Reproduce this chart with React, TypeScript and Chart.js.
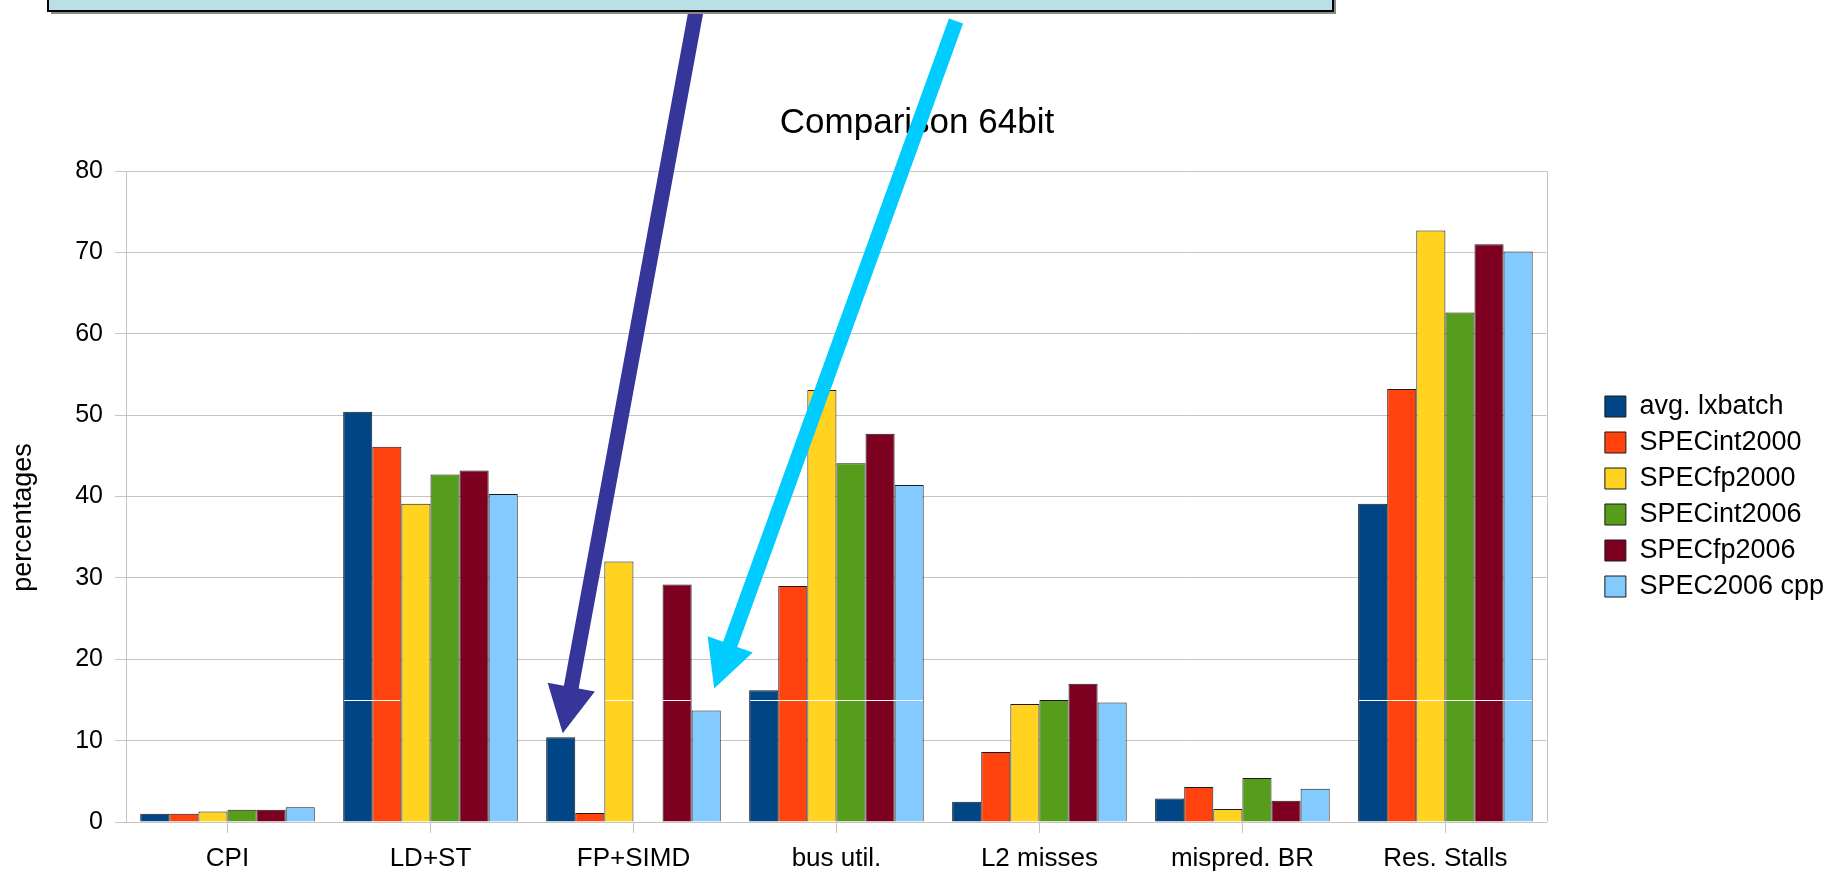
import React, { useEffect, useRef } from 'react';
import { Chart, registerables } from 'chart.js';

Chart.register(...registerables);

const categories = ['CPI', 'LD+ST', 'FP+SIMD', 'bus util.', 'L2 misses', 'mispred. BR', 'Res. Stalls'];

const avgLxbatch = [1.0, 50.4, 10.4, 16.2, 2.5, 2.9, 39.1];
const specInt2000 = [1.0, 46.1, 1.1, 29.0, 8.6, 4.3, 53.2];
const specFp2000 = [1.3, 39.1, 32.0, 53.1, 14.5, 1.6, 72.7];
const specInt2006 = [1.5, 42.7, 0.1, 44.1, 15.0, 5.4, 62.6];
const specFp2006 = [1.5, 43.2, 29.2, 47.7, 17.0, 2.6, 71.0];
const spec2006Cpp = [1.8, 40.3, 13.7, 41.4, 14.7, 4.1, 70.1];

const seriesNames = ['avg. lxbatch', 'SPECint2000', 'SPECfp2000', 'SPECint2006', 'SPECfp2006', 'SPEC2006 cpp'];
const seriesValues = [avgLxbatch, specInt2000, specFp2000, specInt2006, specFp2006, spec2006Cpp];
const seriesColors = ['#004586', '#ff420e', '#ffd320', '#579d1c', '#7e0021', '#83caff'];

const yMin = 0;
const yMax = 80;
const yStep = 10;

const chartTitle = 'Comparison 64bit';
const yAxisTitle = 'percentages';

// white stripe at value 15 crossing some bars: [category index, first series, last series]
const stripeValue = 15;
const stripeSegments = [
  [1, 0, 1],
  [2, 2, 4],
  [3, 0, 5],
  [6, 0, 5],
];

// callout arrows pointing at bars
const arrowTargets = [
  { series: 0, index: 2, color: '#35359a', start: [698, 0], tipShift: [2, -4] },
  { series: 5, index: 2, color: '#00ccff', start: [956, 21], tipShift: [8, -22] },
];

const FONT = "'Liberation Sans', Arial, sans-serif";
const GRID = '#c4c4c4';

function drawArrow(ctx: CanvasRenderingContext2D, sx: number, sy: number, tx: number, ty: number, color: string) {
  const dx = tx - sx;
  const dy = ty - sy;
  const len = Math.hypot(dx, dy);
  const ux = dx / len;
  const uy = dy / len;
  const nx = -uy;
  const ny = ux;
  const shaft = 15;
  const headLen = 47;
  const headW = 48;
  const bx = tx - ux * headLen;
  const by = ty - uy * headLen;
  ctx.save();
  ctx.fillStyle = color;
  ctx.beginPath();
  ctx.moveTo(sx + nx * shaft / 2, sy + ny * shaft / 2);
  ctx.lineTo(bx + nx * shaft / 2, by + ny * shaft / 2);
  ctx.lineTo(bx + nx * headW / 2, by + ny * headW / 2);
  ctx.lineTo(tx, ty);
  ctx.lineTo(bx - nx * headW / 2, by - ny * headW / 2);
  ctx.lineTo(bx - nx * shaft / 2, by - ny * shaft / 2);
  ctx.lineTo(sx - nx * shaft / 2, sy - ny * shaft / 2);
  ctx.closePath();
  ctx.fill();
  ctx.restore();
}

const stripePlugin = {
  id: 'stripe',
  afterDatasetsDraw(chart: any) {
    const ctx = chart.ctx;
    const y = Math.round(chart.scales.y.getPixelForValue(stripeValue)) + 0.5;
    ctx.save();
    ctx.strokeStyle = '#ffffff';
    ctx.lineWidth = 1;
    stripeSegments.forEach(([idx, a, b]) => {
      const ea: any = chart.getDatasetMeta(a).data[idx];
      const eb: any = chart.getDatasetMeta(b).data[idx];
      if (!ea || !eb) return;
      ctx.beginPath();
      ctx.moveTo(ea.x - ea.width / 2 + 1, y);
      ctx.lineTo(eb.x + eb.width / 2 - 1, y);
      ctx.stroke();
    });
    ctx.restore();
  },
};

const framePlugin = {
  id: 'frame',
  beforeDatasetsDraw(chart: any) {
    const { ctx, chartArea } = chart;
    ctx.save();
    ctx.strokeStyle = GRID;
    ctx.lineWidth = 1;
    ctx.beginPath();
    ctx.moveTo(Math.round(chartArea.right) + 0.5, chartArea.top);
    ctx.lineTo(Math.round(chartArea.right) + 0.5, chartArea.bottom);
    ctx.stroke();
    ctx.restore();
  },
};

// y axis title, placed a little below the axis centre as in the original
const yTitlePlugin = {
  id: 'ytitle',
  afterDraw(chart: any) {
    const { ctx, chartArea } = chart;
    ctx.save();
    ctx.translate(24, (chartArea.top + chartArea.bottom) / 2 + 21);
    ctx.rotate(-Math.PI / 2);
    ctx.fillStyle = '#000000';
    ctx.font = `27px ${FONT}`;
    ctx.textAlign = 'center';
    ctx.textBaseline = 'middle';
    ctx.fillText(yAxisTitle, 0, 0);
    ctx.restore();
  },
};

const calloutPlugin = {
  id: 'callout',
  afterDraw(chart: any) {
    const ctx = chart.ctx;
    arrowTargets.forEach((a) => {
      const el: any = chart.getDatasetMeta(a.series).data[a.index];
      if (!el) return;
      drawArrow(ctx, a.start[0], a.start[1], el.x + a.tipShift[0], el.y + a.tipShift[1], a.color);
    });
    // callout box at the top (continues above the picture)
    ctx.save();
    ctx.fillStyle = '#8a8a8a';
    ctx.fillRect(51, -20, 1285, 34);
    ctx.fillStyle = '#b9e0e4';
    ctx.fillRect(48, -20, 1285, 31);
    ctx.strokeStyle = '#000000';
    ctx.lineWidth = 2;
    ctx.strokeRect(48, -20, 1285, 31);
    ctx.restore();
  },
};

export default function App() {
  const canvasRef = useRef<HTMLCanvasElement | null>(null);

  useEffect(() => {
    if (!canvasRef.current) return;
    Chart.defaults.font.family = FONT;
    const chart = new Chart(canvasRef.current, {
      type: 'bar',
      data: {
        labels: categories,
        datasets: seriesNames.map((name, i) => ({
          label: name,
          data: seriesValues[i],
          backgroundColor: seriesColors[i],
          borderColor: '#1a1a1a',
          borderWidth: 1,
          categoryPercentage: 0.86,
          barPercentage: 1.0,
          yAxisID: 'y',
        })),
      },
      options: {
        responsive: false,
        animation: false,
        layout: { padding: { left: 0, right: 8, top: 0, bottom: 0 } },
        plugins: {
          tooltip: { enabled: false },
          title: {
            display: true,
            text: chartTitle,
            color: '#000000',
            font: { family: FONT, size: 35, weight: 'normal' },
            padding: { top: 102, bottom: 27 },
          },
          legend: {
            display: true,
            position: 'right',
            fullSize: false,
            align: 'center',
            labels: {
              boxWidth: 21,
              boxHeight: 21,
              padding: 9,
              color: '#000000',
              font: { family: FONT, size: 27 },
            },
          },
        },
        scales: {
          x: {
            type: 'category',
            offset: true,
            grid: {
              display: true,
              drawOnChartArea: false,
              drawTicks: true,
              tickLength: 11,
              offset: false,
              color: GRID,
            },
            border: { display: true, color: GRID },
            ticks: {
              color: '#000000',
              font: { family: FONT, size: 26 },
              padding: 10,
              maxRotation: 0,
              autoSkip: false,
            },
            afterFit: (scale: any) => {
              scale.height = 53;
            },
          },
          y: {
            type: 'linear',
            position: 'left',
            min: yMin,
            max: yMax,
            grid: { color: GRID, tickLength: 11, drawTicks: true },
            border: { display: true, color: GRID },
            ticks: {
              stepSize: yStep,
              color: '#000000',
              font: { family: FONT, size: 25 },
              padding: 12,
            },
            title: { display: false, text: yAxisTitle },
            afterFit: (scale: any) => {
              scale.width = 126;
            },
          },
          y2: {
            type: 'linear',
            position: 'right',
            display: true,
            min: yMin,
            max: yMax,
            grid: { drawOnChartArea: false, drawTicks: false },
            border: { display: false },
            ticks: { display: false },
            afterFit: (scale: any) => {
              scale.width = 49;
            },
          },
        },
      },
      plugins: [framePlugin, stripePlugin, yTitlePlugin, calloutPlugin],
    } as any);
    return () => chart.destroy();
  }, []);

  return (
    <div style={{ position: 'absolute', left: 0, top: 0, width: 1842, height: 875, background: '#ffffff' }}>
      <canvas ref={canvasRef} width={1842} height={875} />
    </div>
  );
}
